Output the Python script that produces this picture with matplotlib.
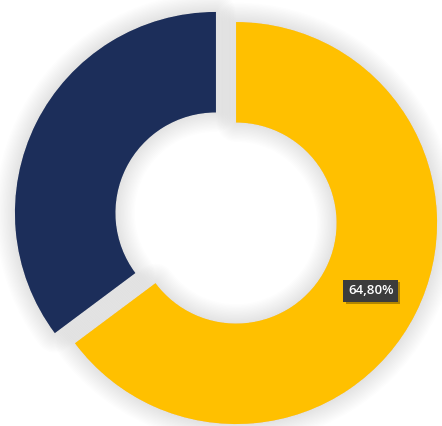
import matplotlib
matplotlib.use("Agg")
import matplotlib.pyplot as plt
import matplotlib.patheffects as pe

# data
labels = ["A", "B"]
values = [64.80, 35.20]
colors = ["#FFC000", "#1C2E5A"]

W, H = 442, 426
R_PX = 201          # outer radius in pixels
CX, CY = 226, 218   # pie centre in pixels (from top-left)


def fmt_pct(p):
    # only the big slice carries a label
    if p < 50:
        return ""
    return f"{p:.2f}%".replace(".", ",")


fig = plt.figure(figsize=(W / 100, H / 100), dpi=100)
ax = fig.add_axes([0, 0, 1, 1])

wedges, texts, autotexts = ax.pie(
    values,
    colors=colors,
    startangle=90,
    counterclock=False,
    explode=[0.056, 0.056],
    radius=1.0,
    wedgeprops=dict(width=0.5, linewidth=0),
    autopct=fmt_pct,
    pctdistance=0.75,
    textprops=dict(color="white", fontsize=9.5, family=["Open Sans", "DejaVu Sans"],
                   fontweight="semibold"),
)

# soft grey glow round every slice
glow = [pe.Stroke(linewidth=lw, foreground="#000000", alpha=0.007, joinstyle="round")
        for lw in range(28, 0, -2)]
for w in wedges:
    w.set_path_effects(glow + [pe.Normal()])

for t in autotexts:
    if t.get_text():
        t.set_bbox(dict(boxstyle="square,pad=0.35", fc="#3C3C3C", ec="none"))
        t.get_bbox_patch().set_path_effects(
            [pe.SimplePatchShadow(offset=(1.5, -1.5), shadow_rgbFace="#000000", alpha=0.3),
             pe.Normal()])

ax.set_xlim(-CX / R_PX, (W - CX) / R_PX)
ax.set_ylim(-(H - CY) / R_PX, CY / R_PX)
ax.set_aspect("auto")
ax.axis("off")

fig.savefig("out.png", dpi=100, facecolor="white")
